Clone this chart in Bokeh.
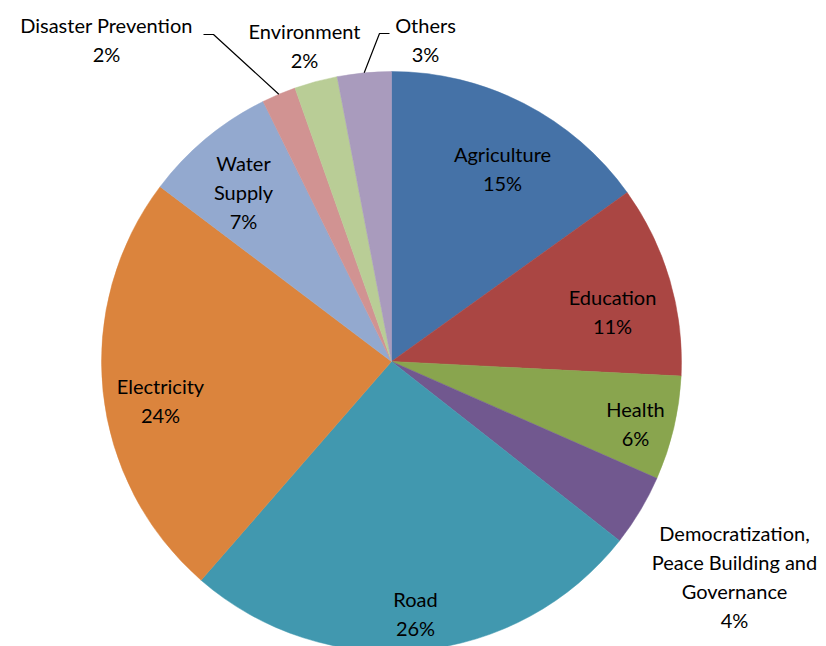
import math
from bokeh.plotting import figure
from bokeh.models import Range1d, ColumnDataSource
from bokeh.core.properties import value
from bokeh.embed import file_html
from bokeh.resources import INLINE

# ---- data ----
categories = ["Agriculture", "Education", "Health",
              "Democratization, Peace Building and Governance",
              "Road", "Electricity", "Water Supply",
              "Disaster Prevention", "Environment", "Others"]
shares = [15.1, 10.7, 5.8, 4.0, 25.8, 23.9, 7.4, 1.9, 2.4, 3.0]
colors = ["#4572A7", "#AA4643", "#89A54E", "#71588F", "#4198AF",
          "#DB843D", "#93A9CF", "#D19392", "#B9CD96", "#A99BBD"]
label_lines = [["Agriculture"], ["Education"], ["Health"],
               ["Democratization,", "Peace Building and", "Governance"],
               ["Road"], ["Electricity"], ["Water", "Supply"],
               ["Disaster Prevention"], ["Environment"], ["Others"]]

# ---- layout (screen pixel positions of label first lines) ----
W, H = 826, 646


def sx(x):
    return x


def sy(y):
    return H - y


CX, CY = sx(391), sy(361)
R = 290
label_pos = [(502, 153), (612, 296), (635, 408), (734, 532), (415, 598),
             (160, 385), (243, 162), (106, 24), (304, 30), (425, 24)]
LINE_GAP = 29
leaders = {7: [(203, 34), (213, 34)], 9: [(389, 33), (379, 33)]}

total = sum(shares)
starts, ends, mids = [], [], []
acc = 0.0
for s in shares:
    a0 = acc / total * 360.0
    acc += s
    a1 = acc / total * 360.0
    # clockwise from top -> bokeh angle (ccw from +x)
    starts.append(math.radians(90 - a0))
    ends.append(math.radians(90 - a1))
    mids.append((a0 + a1) / 2)

p = figure(width=W, height=H, x_range=Range1d(0, W), y_range=Range1d(0, H),
           output_backend="svg", toolbar_location=None, min_border=0)
p.axis.visible = False
p.grid.visible = False
p.outline_line_color = None
p.background_fill_color = "white"
p.border_fill_color = "white"

src = ColumnDataSource(dict(cat=categories, start=starts, end=ends, color=colors))
p.wedge(x=CX, y=CY, radius=R, start_angle="start", end_angle="end",
        direction="clock", fill_color="color", line_color="color",
        line_width=0.5, source=src)

# leader lines
for i, pts in leaders.items():
    m = math.radians(mids[i])
    rx = 391 + R * math.sin(m)
    ry = 361 - R * math.cos(m)
    xs = [sx(x) for x, _ in pts] + [sx(rx)]
    ys = [sy(y) for _, y in pts] + [sy(ry)]
    p.line(xs, ys, line_color="black", line_width=1.2)

tx, ty, tt = [], [], []
for i, lines in enumerate(label_lines):
    x0, y0 = label_pos[i]
    all_lines = lines + [f"{round(shares[i])}%"]
    for k, t in enumerate(all_lines):
        tx.append(sx(x0))
        ty.append(sy(y0 + k * LINE_GAP))
        tt.append(t)

p.text(x=tx, y=ty, text=tt, text_align="center", text_baseline="middle",
       text_font=value("Lato"), text_font_size="20px", text_color="black")

open("out.html", "w").write(file_html(p, INLINE))
